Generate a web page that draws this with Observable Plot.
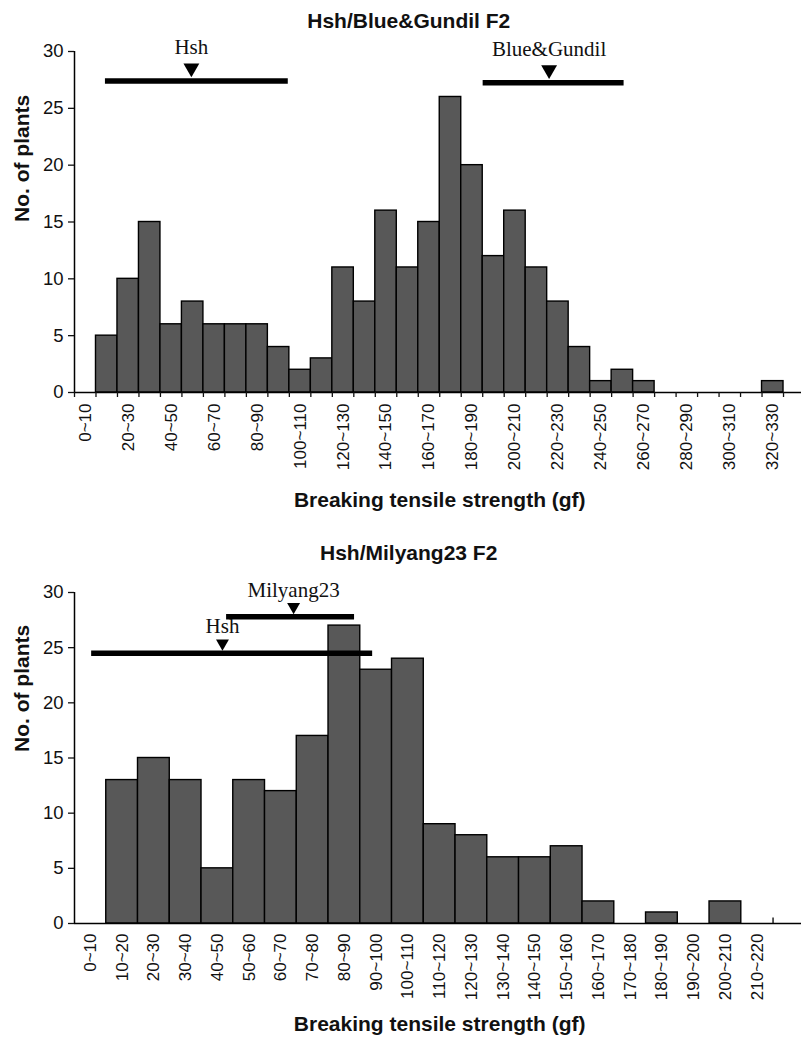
<!DOCTYPE html>
<html>
<head>
<meta charset="utf-8">
<script src="https://cdn.jsdelivr.net/npm/d3@7"></script>
<script src="https://cdn.jsdelivr.net/npm/@observablehq/plot@0.6"></script>
<style>
  body { margin: 0; background: #fff; }
  #charts svg { display: block; }
</style>
</head>
<body>
<div id="charts"></div>
<script>
// ---------- Chart 1: Hsh/Blue&Gundil F2 ----------
const topTitle = "Hsh/Blue&Gundil F2";
const topCategories = ["0~10","10~20","20~30","30~40","40~50","50~60","60~70","70~80","80~90","90~100",
  "100~110","110~120","120~130","130~140","140~150","150~160","160~170","170~180","180~190","190~200",
  "200~210","210~220","220~230","230~240","240~250","250~260","260~270","270~280","280~290","290~300",
  "300~310","310~320","320~330"];
const topCounts = [0,5,10,15,6,8,6,6,6,4,
  2,3,11,8,16,11,15,26,20,12,
  16,11,8,4,1,2,1,0,0,0,
  0,0,1];
const topTickLabels = ["0~10","20~30","40~50","60~70","80~90","100~110","120~130","140~150","160~170",
  "180~190","200~210","220~230","240~250","260~270","280~290","300~310","320~330"];
const topParents = ["Hsh", "Blue&Gundil"];
const topParentLow = [14.4, 190.2];
const topParentHigh = [99.5, 255.8];
const topParentMean = [54.4, 220.9];
const topParentLevel = [27.4, 27.25];

// ---------- Chart 2: Hsh/Milyang23 F2 ----------
const bottomTitle = "Hsh/Milyang23 F2";
const bottomCategories = ["0~10","10~20","20~30","30~40","40~50","50~60","60~70","70~80","80~90","90~100",
  "100~110","110~120","120~130","130~140","140~150","150~160","160~170","170~180","180~190","190~200",
  "200~210","210~220"];
const bottomCounts = [0,13,15,13,5,13,12,17,27,23,
  24,9,8,6,6,7,2,0,1,0,
  2,0];
const bottomTickLabels = bottomCategories;
const bottomParents = ["Milyang23", "Hsh"];
const bottomParentLow = [47.9, 5.4];
const bottomParentHigh = [88.2, 93.9];
const bottomParentMean = [69.0, 46.6];
const bottomParentLevel = [27.8, 24.5];

const yTicks = [0, 5, 10, 15, 20, 25, 30];
const xAxisTitle = "Breaking tensile strength (gf)";
const yAxisTitle = "No. of plants";

function parseRange(s) {
  const [lo, hi] = s.split("~").map(Number);
  return {lo, hi};
}

function chart(o) {
  const bins = o.categories.map((c, i) => ({...parseRange(c), count: o.counts[i]}));
  const ann = o.parents.map((name, i) => ({name, lo: o.low[i], hi: o.high[i], mean: o.mean[i], level: o.level[i]}));
  const labelMap = new Map(o.tickLabels.map(l => { const r = parseRange(l); return [(r.lo + r.hi) / 2, l]; }));
  const maxHi = d3.max(bins, d => d.hi);
  const boundaries = bins.map(d => d.lo).concat([maxHi]);
  const marks = [
    Plot.rectY(bins.filter(d => d.count > 0), {x1: "lo", x2: "hi", y1: 0, y2: "count",
      fill: "#585858", stroke: "#000", strokeWidth: 1.4}),
    Plot.ruleY([0], {stroke: "#000", strokeWidth: 1.5}),
    Plot.ruleX([0], {stroke: "#000", strokeWidth: 1.5}),
    Plot.axisY({ticks: yTicks, tickSize: 6, tickPadding: 5, fontSize: 18.5, label: null, strokeWidth: 1.3}),
    Plot.axisX({ticks: [...labelMap.keys()], tickFormat: d => labelMap.get(d), tickRotate: -90,
      tickSize: 0, tickPadding: o.labelPad, fontSize: 17, label: null}),
    Plot.ruleY(ann, {x1: "lo", x2: "hi", y: "level", stroke: "#000", strokeWidth: 5.5}),
    Plot.dot(ann, {x: "mean", y: "level", symbol: "triangle", rotate: 180, r: o.triR, fill: "#000",
      stroke: "none", dy: o.triDy}),
    Plot.text(ann, {x: "mean", y: "level", text: "name", dy: o.textDy, lineAnchor: "bottom",
      fontFamily: "'Liberation Serif', 'Times New Roman', serif", fontSize: 21, fill: "#111"}),
    Plot.text([o.title], {text: d => d, frameAnchor: "top", dx: -31, dy: o.titleDy, lineAnchor: "bottom",
      fontWeight: "bold", fontSize: 21, fill: "#111"}),
    Plot.text([xAxisTitle], {text: d => d, frameAnchor: "bottom", dy: o.xLabelDy, lineAnchor: "bottom",
      fontWeight: "bold", fontSize: 21, fill: "#111"}),
    Plot.text([yAxisTitle], {text: d => d, frameAnchor: "left", dx: -52, dy: o.yLabelDy, rotate: -90,
      fontWeight: "bold", fontSize: 21, fill: "#111"})
  ];
  if (o.downTicks) {
    marks.push(Plot.axisX({ticks: boundaries, tickFormat: () => "", tickSize: 5, label: null, strokeWidth: 1.3}));
  } else {
    marks.push(Plot.ruleX([maxHi], {y1: 0, y2: 0.5, stroke: "#000", strokeWidth: 1.3}));
  }
  return Plot.plot({
    width: 801,
    height: o.height,
    marginLeft: 74,
    marginRight: o.marginRight,
    marginTop: o.marginTop,
    marginBottom: o.marginBottom,
    style: {fontFamily: "'Liberation Sans', Arial, Helvetica, sans-serif", color: "#111", background: "#fff", overflow: "hidden"},
    x: {domain: [0, o.xMax]},
    y: {domain: [0, 30]},
    marks
  });
}

const container = document.getElementById("charts");
container.append(chart({
  title: topTitle, categories: topCategories, counts: topCounts, tickLabels: topTickLabels,
  parents: topParents, low: topParentLow, high: topParentHigh, mean: topParentMean, level: topParentLevel,
  height: 520, marginTop: 51, marginBottom: 128, marginRight: -3.5, xMax: 340,
  titleDy: -24, xLabelDy: 114, yLabelDy: 0, labelPad: 11, triR: 5.9, triDy: -13, textDy: -27,
  downTicks: true
}));
container.append(chart({
  title: bottomTitle, categories: bottomCategories, counts: bottomCounts, tickLabels: bottomTickLabels,
  parents: bottomParents, low: bottomParentLow, high: bottomParentHigh, mean: bottomParentMean, level: bottomParentLevel,
  height: 521, marginTop: 72, marginBottom: 118, marginRight: -3.3, xMax: 230,
  titleDy: -33, xLabelDy: 107, yLabelDy: -6, labelPad: 10, triR: 4.8, triDy: -10, textDy: -20,
  downTicks: false
}));
</script>
</body>
</html>
